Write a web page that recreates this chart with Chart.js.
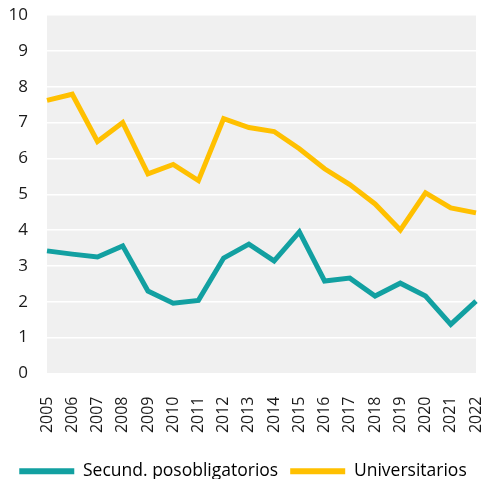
<!DOCTYPE html>
<html>
<head>
<meta charset="utf-8">
<script src="https://cdn.jsdelivr.net/npm/chart.js@4"></script>
<style>
  html, body { margin: 0; padding: 0; background: #ffffff; overflow: hidden; }
  #wrap { width: 486px; height: 490px; position: relative; }
</style>
</head>
<body>
<div id="wrap"><canvas id="chartEdu"></canvas></div>
<script>
// categories and series
const years = ['2005', '2006', '2007', '2008', '2009', '2010', '2011', '2012', '2013',
  '2014', '2015', '2016', '2017', '2018', '2019', '2020', '2021', '2022'];
const secundarios = [3.42, 3.33, 3.25, 3.56, 2.3, 1.96, 2.04, 3.22, 3.61,
  3.14, 3.95, 2.58, 2.66, 2.16, 2.52, 2.16, 1.37, 2.02];
const universitarios = [7.62, 7.79, 6.47, 7.0, 5.57, 5.83, 5.38, 7.11, 6.86,
  6.75, 6.27, 5.71, 5.27, 4.73, 4.0, 5.04, 4.62, 4.48];
const yTicks = [0, 1, 2, 3, 4, 5, 6, 7, 8, 9, 10];

const TEAL = '#12a0a1';
const GOLD = '#ffc000';

// grey plot background
const plotBg = {
  id: 'plotBg',
  beforeDraw(chart) {
    const { ctx, chartArea: a } = chart;
    ctx.save();
    ctx.fillStyle = '#f0f0f0';
    ctx.fillRect(a.left, a.top, a.right - a.left, a.bottom - a.top);
    ctx.restore();
  }
};

Chart.defaults.font.family = "'Open Sans', 'Noto Sans', sans-serif";
Chart.defaults.color = '#1a1a1a';

new Chart(document.getElementById('chartEdu'), {
  type: 'line',
  data: {
    labels: years,
    datasets: [
      {
        label: 'Secund. posobligatorios',
        data: secundarios,
        borderColor: TEAL,
        backgroundColor: TEAL,
        borderWidth: 5,
        pointRadius: 0,
        tension: 0,
      },
      {
        label: 'Universitarios',
        data: universitarios,
        borderColor: GOLD,
        backgroundColor: GOLD,
        borderWidth: 5,
        pointRadius: 0,
        tension: 0,
      }
    ]
  },
  options: {
    responsive: true,
    maintainAspectRatio: false,
    animation: false,
    layout: { padding: { top: 15, right: 0, left: 0, bottom: 0 } },
    plugins: {
      tooltip: { enabled: false },
      legend: {
        position: 'bottom',
        labels: {
          boxWidth: 55,
          boxHeight: 6,
          padding: 12,
          font: { size: 17.5 },
          color: '#1a1a1a',
          generateLabels(chart) {
            return chart.data.datasets.map((ds, i) => ({
              text: ds.label,
              fillStyle: ds.borderColor,
              strokeStyle: ds.borderColor,
              lineWidth: 0,
              datasetIndex: i,
              hidden: false,
            }));
          }
        }
      }
    },
    scales: {
      x: {
        offset: false,
        grid: { display: false },
        border: { display: false },
        afterFit(scale) {
          scale.paddingLeft = 0;
          scale.paddingRight = 10;
          scale.height = 77;
        },
        ticks: {
          maxRotation: 90,
          minRotation: 90,
          autoSkip: false,
          padding: 15,
          font: { size: 16 }
        }
      },
      y: {
        min: 0,
        max: 10,
        afterBuildTicks(axis) { axis.ticks = yTicks.map(v => ({ value: v })); },
        afterFit(scale) {
          scale.paddingTop = 0;
          scale.paddingBottom = 0;
          scale.width = 47;
        },
        grid: { color: '#ffffff', lineWidth: 1.5, drawTicks: false },
        border: { display: false },
        ticks: { padding: 19, font: { size: 17 } }
      }
    }
  },
  plugins: [plotBg]
});
</script>
</body>
</html>
